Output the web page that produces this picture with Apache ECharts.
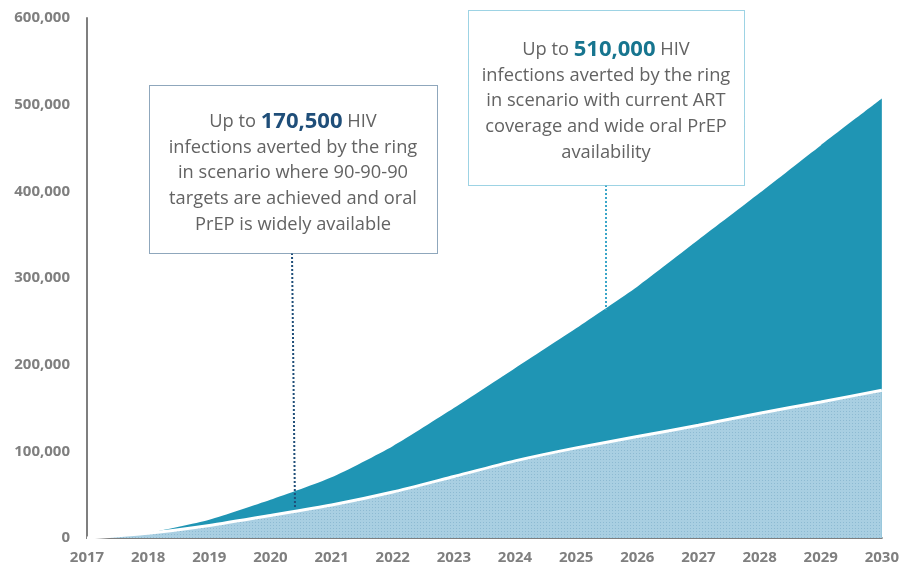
<!DOCTYPE html>
<html><head><meta charset="utf-8">
<script src="https://cdn.jsdelivr.net/npm/echarts@6/dist/echarts.min.js"></script>
<style>html,body{margin:0;padding:0;background:#fff}#c{width:902px;height:570px}</style>
</head><body><div id="c"></div>
<script>
const years = ['2017','2018','2019','2020','2021','2022','2023','2024','2025','2026','2027','2028','2029','2030'];
// Total infections averted, current ART coverage + wide oral PrEP
const totalAverted = [0, 6000, 21000, 44000, 70000, 106000, 150000, 196000, 242000, 290000, 344000, 398000, 453000, 507000];
// Infections averted, 90-90-90 achieved + oral PrEP widely available
const lowerAverted = [0, 5500, 14500, 26000, 38000, 53000, 71000, 89000, 104000, 117000, 130000, 144000, 157000, 170500];
const yTicks = [0, 100000, 200000, 300000, 400000, 500000, 600000];

const pat = document.createElement('canvas');
pat.width = 3; pat.height = 3;
const pc = pat.getContext('2d');
pc.fillStyle = '#A9CFE2'; pc.fillRect(0,0,3,3);
pc.fillStyle = '#8DBAD2'; pc.fillRect(0,0,1,1);

const chart = echarts.init(document.getElementById('c'));
const grey = '#7F7F7F';
const font = '"Open Sans", sans-serif';
const txt = '#636363';
chart.setOption({
  animation: false,
  grid: {left: 87, right: 20, top: 18, bottom: 32},
  xAxis: {
    type: 'category', data: years, boundaryGap: false,
    axisLine: {lineStyle: {color: grey, width: 2}},
    axisTick: {show: false},
    axisLabel: {color: grey, fontWeight: 'bold', fontSize: 15, fontFamily: font, margin: 12}
  },
  yAxis: {
    type: 'value', min: yTicks[0], max: yTicks[yTicks.length-1], interval: 100000,
    axisLine: {show: true, lineStyle: {color: grey, width: 2}},
    axisTick: {show: false},
    splitLine: {show: false},
    axisLabel: {color: grey, fontWeight: 'bold', fontSize: 15, fontFamily: font, margin: 17,
      formatter: v => v.toLocaleString('en-US')}
  },
  series: [
    {type: 'line', data: totalAverted, symbol: 'none', smooth: 0.2, lineStyle: {width: 0},
     areaStyle: {color: '#1F95B4', opacity: 1}, z: 2},
    {type: 'line', data: lowerAverted, symbol: 'none', smooth: 0.2, lineStyle: {width: 3, color: '#ffffff'},
     areaStyle: {color: {image: pat, repeat: 'repeat'}, opacity: 1}, z: 3}
  ],
  graphic: [
    {type: 'line', z: 10, shape: {x1: 292, y1: 253, x2: 295, y2: 508},
     style: {stroke: '#1F4E79', lineWidth: 2, lineDash: [2, 2]}},
    {type: 'line', z: 10, shape: {x1: 606, y1: 185, x2: 606, y2: 310},
     style: {stroke: '#3AA6C8', lineWidth: 2, lineDash: [2, 2]}},
    {type: 'rect', z: 11, shape: {x: 149.5, y: 85.5, width: 288, height: 168},
     style: {fill: '#ffffff', stroke: '#1F4E79', lineWidth: 1, lineDash: [1, 1]}},
    {type: 'rect', z: 11, shape: {x: 468.5, y: 10.5, width: 276, height: 175},
     style: {fill: '#ffffff', stroke: '#3AA6C8', lineWidth: 1, lineDash: [1, 1]}},
    {type: 'text', z: 12, x: 293, y: 109,
     style: {text: '{n|Up to }{b|170,500}{n| HIV}\n{n|infections averted by the ring}\n{n|in scenario where 90-90-90}\n{n|targets are achieved and oral}\n{n|PrEP is widely available}',
       align: 'center', verticalAlign: 'top', fontFamily: font, fontSize: 18, fill: txt, lineHeight: 25.7,
       rich: {n: {fontFamily: font, fontSize: 18.3, fill: txt, lineHeight: 25.7},
              b: {fontFamily: font, fontSize: 22, fontWeight: 'bold', fill: '#1F4E79', lineHeight: 25.7}}}},
    {type: 'text', z: 12, x: 606, y: 37,
     style: {text: '{n|Up to }{b|510,000}{n| HIV}\n{n|infections averted by the ring}\n{n|in scenario with current ART}\n{n|coverage and wide oral PrEP}\n{n|availability}',
       align: 'center', verticalAlign: 'top', fontFamily: font, fontSize: 18, fill: txt, lineHeight: 25.7,
       rich: {n: {fontFamily: font, fontSize: 18.3, fill: txt, lineHeight: 25.7},
              b: {fontFamily: font, fontSize: 22, fontWeight: 'bold', fill: '#17758F', lineHeight: 25.7}}}}
  ]
});
</script></body></html>
